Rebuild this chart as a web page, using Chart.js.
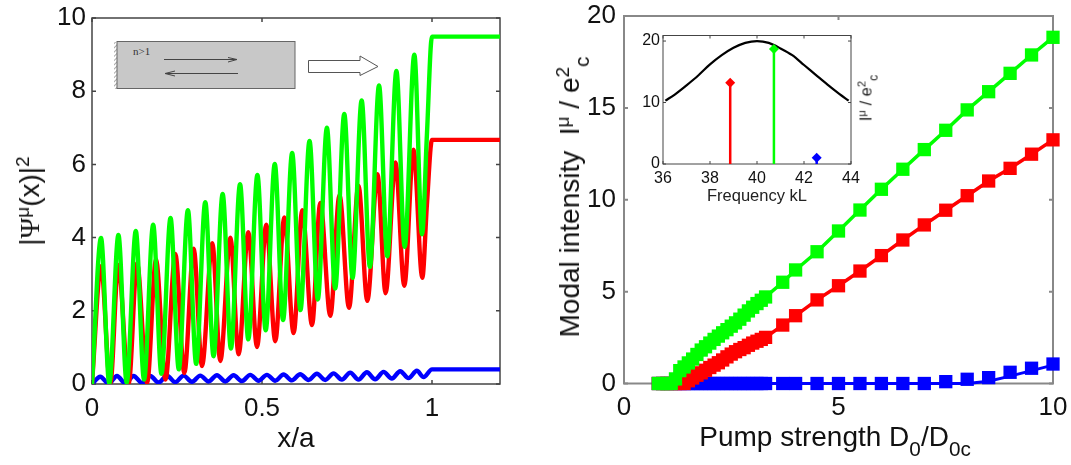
<!DOCTYPE html>
<html lang="en">
<head>
    <meta charset="UTF-8">
    <title>Modal intensity</title>
    <style>
        body { margin: 0; background: #fff; overflow: hidden; }
        canvas { position: absolute; left: 0; top: 0; }
        .label {
            position: absolute;
            white-space: nowrap;
            font-family: "Liberation Sans", sans-serif;
            color: #111;
            transform: translate(-50%, -50%);
        }
        .rot { transform: translate(-50%, -50%) rotate(-90deg); }
        .big { font-size: 28px; }
        .small { font-size: 16.5px; color: #222; }
        .label sup { font-size: 68%; line-height: 0; }
        .label sub { font-size: 74%; line-height: 0; vertical-align: -0.5em; }
        .psi { font-family: "Liberation Serif", serif; }
        #sketch { position: absolute; left: 0; top: 0; }
    </style>
</head>
<body>
    <canvas id="leftChart" width="1071" height="465"></canvas>
    <canvas id="rightChart" width="1071" height="465"></canvas>
    <canvas id="insetChart" width="1071" height="465"></canvas>

    <svg id="sketch" width="1071" height="465">
        <defs>
            <pattern id="hatch" width="3" height="3" patternUnits="userSpaceOnUse" patternTransform="rotate(45)">
                <line x1="0" y1="0" x2="0" y2="3" stroke="#555" stroke-width="1"/>
            </pattern>
        </defs>
        <rect x="114" y="42" width="3" height="47" fill="url(#hatch)"/>
        <rect x="117" y="41.5" width="178" height="47" fill="#c8c8c8" stroke="#666" stroke-width="1"/>
        <text x="133" y="55" font-family="Liberation Serif" font-size="11" fill="#333">n&gt;1</text>
        <path d="M164 59.5H236M228 57.5L237 59.5L228 62" fill="none" stroke="#444" stroke-width="1"/>
        <path d="M238 73.5H166M175 71L165 73.5L175 76" fill="none" stroke="#444" stroke-width="1"/>
        <path d="M308.5 60.5H360V56L378 66.5L360 75.5V72.5H308.5Z" fill="#fff" stroke="#555" stroke-width="1"/>
    </svg>

    <div class="label big" style="left:296px;top:438px">x/a</div>
    <div class="label big rot" style="left:30px;top:201px">|<span class="psi">&Psi;</span><sup>&mu;</sup>(x)|<sup>2</sup></div>
    <div class="label big" style="left:835px;top:437px">Pump strength D<sub>0</sub>/D<sub>0c</sub></div>
    <div class="label big rot" style="left:570px;top:197px">Modal intensity&nbsp; I<sup>&mu;</sup> / e<sup>2</sup><sub>c</sub></div>
    <div class="label small" style="left:757px;top:195px">Frequency kL</div>
    <div class="label small rot" style="left:866px;top:98px">I<sup>&mu;</sup> / e<sup>2</sup><sub>c</sub></div>

    <script src="https://cdn.jsdelivr.net/npm/chart.js"></script>
    <script>
        // left panel, |psi|^2 along the cavity: peaks and troughs
        const greenPsiX = [0, .0265, .0509, .0777, .102, .1288, .1531, .1799, .2042, .231, .2553, .2821, .3064, .3332, .3575, .3843, .4086, .4354, .4597, .4865, .5108, .5376, .5619, .5887, .613, .6398, .6641, .6909, .7152, .742, .7663, .7931, .8174, .8442, .8685, .8953, .9196, .948, .9708, .985, 1, 1.2];
        const greenPsiY = [0, 3.99, .02, 4.07, .04, 4.18, .12, 4.35, .28, 4.54, .4, 4.75, .55, 4.97, .76, 5.19, .97, 5.46, 1.22, 5.71, 1.47, 6.01, 1.75, 6.31, 2.02, 6.64, 2.31, 7.0, 2.61, 7.38, 2.9, 7.75, 3.2, 8.16, 3.49, 8.55, 3.75, 9.0, 4.09, 6.8, 9.49, 9.49];
        const redPsiX = [0, .0265, .0538, .0774, .1079, .1324, .1621, .1882, .2162, .2451, .2715, .2991, .3235, .3538, .3774, .4071, .4312, .4597, .4853, .5126, .5391, .5656, .593, .6185, .6471, .6715, .7009, .728, .7559, .7838, .8097, .8397, .8635, .8926, .9185, .9456, .9715, .985, 1, 1.2];
        const redPsiY = [0, 3.22, .01, 3.25, .01, 3.3, .03, 3.4, .12, 3.55, .3, 3.7, .49, 3.85, .63, 4.0, .81, 4.15, 1.01, 4.35, 1.17, 4.55, 1.39, 4.75, 1.61, 4.95, 1.86, 5.16, 2.08, 5.42, 2.27, 5.73, 2.48, 6.05, 2.68, 6.4, 2.9, 4.9, 6.67, 6.67];
        const bluePsiX = [0, .0244, .0489, .0734, .0979, .1224, .1469, .1714, .1959, .2204, .2449, .2694, .2939, .3184, .3429, .3674, .3919, .4164, .4409, .4654, .4899, .5144, .5389, .5634, .5879, .6124, .6369, .6614, .6859, .7104, .7349, .7594, .7839, .8084, .8329, .8574, .8819, .9064, .9309, .9554, .9753, 1, 1.2];
        const bluePsiY = [0, .2, .01, .22, .02, .22, .03, .22, .04, .23, .05, .23, .06, .23, .07, .24, .07, .24, .08, .25, .09, .25, .09, .26, .1, .265, .11, .28, .11, .29, .12, .31, .12, .32, .13, .33, .15, .35, .16, .36, .19, .4, .4];
        const psiXTicks = [0, 0.5, 1];
        const psiYTicks = [0, 2, 4, 6, 8, 10];

        // right panel, intensity against pump
        const pumpX = [.8, .9, 1, 1.1, 1.2, 1.3, 1.4, 1.5, 1.6, 1.7, 1.8, 1.9, 2, 2.1, 2.2, 2.3, 2.4, 2.5, 2.6, 2.7, 2.8, 2.9, 3, 3.1, 3.2, 3.3, 3.7, 4, 4.5, 5, 5.5, 6, 6.5, 7, 7.5, 8, 8.5, 9, 9.5, 10];
        const greenIntensity = [0, 0, 0, 0, .25, .7, .9, 1.12, 1.33, 1.58, 1.82, 2, 2.2, 2.4, 2.58, 2.76, 2.93, 3.12, 3.3, 3.5, 3.72, 3.95, 4.15, 4.35, 4.53, 4.71, 5.51, 6.18, 7.17, 8.3, 9.44, 10.57, 11.66, 12.73, 13.78, 14.89, 15.88, 16.88, 17.88, 18.84];
        const redIntensity = [0, 0, 0, 0, 0, 0, 0, .15, .3, .45, .58, .72, .87, 1, 1.13, 1.28, 1.45, 1.6, 1.73, 1.85, 1.95, 2.08, 2.2, 2.3, 2.4, 2.51, 3.18, 3.69, 4.55, 5.32, 6.12, 6.96, 7.81, 8.63, 9.43, 10.22, 11.02, 11.71, 12.48, 13.26];
        const blueIntensity = [0, 0, 0, 0, 0, 0, 0, 0, 0, 0, 0, 0, 0, 0, 0, 0, 0, 0, 0, 0, 0, 0, 0, 0, 0, 0, 0, 0, 0, 0, 0, 0, 0, 0, .1, .23, .32, .61, .83, 1.06];
        const blueLine = [0, 0, 0, 0, 0, 0, 0, 0, 0, 0, 0, 0, 0, 0, 0, 0, 0, 0, 0, 0, 0, 0, 0, 0, 0, 0, 0, 0, 0, 0, 0, 0, 0, 0, 0, 0, .12, .4, .7, 1];
        const pumpXTicks = [0, 5, 10];
        const pumpYTicks = [0, 5, 10, 15, 20];

        // inset, gain curve and lasing lines
        const gainX = [36.1, 36.5, 37, 37.5, 38, 38.5, 39, 39.5, 40, 40.5, 41, 41.5, 42, 42.5, 43, 43.5, 43.9];
        const gainY = [10.3, 11.3, 12.8, 14.4, 16.2, 17.7, 18.9, 19.7, 20, 19.7, 18.8, 17.7, 16.1, 14.5, 12.9, 11.4, 10.3];
        const modeFreq = [38.86, 40.72, 42.54];
        const modeIntensity = [13.2, 18.7, 1.03];
        const insetXTicks = [36, 38, 40, 42, 44];
        const insetYTicks = [0, 10, 20];

        const GREEN = '#00ff00', RED = '#ff0000', BLUE = '#0000ff';

        function pts(xs, ys) {
            return xs.map((x, i) => ({ x: x, y: ys[i] }));
        }

        function wave(xs, ys, color) {
            return { data: pts(xs, ys), borderColor: color, borderWidth: 4.4, pointRadius: 0, cubicInterpolationMode: 'monotone' };
        }

        function squares(ys, color) {
            return { data: pts(pumpX, ys), borderColor: color, backgroundColor: color, borderWidth: 3.5, pointStyle: 'rect', pointRadius: 9.4, pointBorderWidth: 0, clip: false };
        }

        function stem(i, color) {
            const x = modeFreq[i];
            return { data: [{ x: x, y: 0 }, { x: x, y: modeIntensity[i] }], borderColor: color, backgroundColor: color, borderWidth: 2.5, pointStyle: 'rectRot', pointRadius: [0, 5], pointBorderWidth: 0, clip: false };
        }

        // box and inward ticks, matlab style
        function framePlugin(color, width, len) {
            return {
                id: 'frame',
                beforeDatasetsDraw(chart) {
                    const c = chart.ctx, a = chart.chartArea;
                    c.save();
                    c.strokeStyle = color;
                    c.lineWidth = width;
                    c.strokeRect(a.left, a.top, a.right - a.left, a.bottom - a.top);
                    c.beginPath();
                    chart.scales.x.ticks.forEach(t => {
                        const p = chart.scales.x.getPixelForValue(t.value);
                        c.moveTo(p, a.bottom); c.lineTo(p, a.bottom - len);
                        c.moveTo(p, a.top); c.lineTo(p, a.top + len);
                    });
                    chart.scales.y.ticks.forEach(t => {
                        const p = chart.scales.y.getPixelForValue(t.value);
                        c.moveTo(a.left, p); c.lineTo(a.left + len, p);
                        c.moveTo(a.right, p); c.lineTo(a.right - len, p);
                    });
                    c.stroke();
                    c.restore();
                }
            };
        }

        function axis(min, max, ticks, fontSize, pad, isY, size) {
            return {
                type: 'linear',
                min: min,
                max: max,
                grid: { display: false, drawTicks: false },
                border: { display: false },
                ticks: { color: '#111', padding: pad, autoSkip: false, maxRotation: 0, font: { family: 'Liberation Sans', size: fontSize }, callback: v => String(v) },
                afterBuildTicks: s => { s.ticks = ticks.map(v => ({ value: v })); },
                afterFit: s => {
                    if (isY) s.width = size; else s.height = size;
                    s.paddingLeft = s.paddingRight = s.paddingTop = s.paddingBottom = 0;
                }
            };
        }

        // box = pixel rectangle of the plot area
        function makeChart(id, box, xMin, xMax, xTicks, yMin, yMax, yTicks, fontSize, xPad, yPad, datasets, frame) {
            const yw = 50, xh = 40;
            new Chart(document.getElementById(id), {
                type: 'line',
                data: { datasets: datasets },
                options: {
                    responsive: false,
                    animation: false,
                    layout: { padding: { left: box.left - yw, top: box.top, right: 1071 - box.right, bottom: 465 - box.bottom - xh } },
                    plugins: { legend: { display: false }, tooltip: { enabled: false } },
                    scales: {
                        x: axis(xMin, xMax, xTicks, fontSize, xPad, false, xh),
                        y: axis(yMin, yMax, yTicks, fontSize, yPad, true, yw)
                    }
                },
                plugins: [frame]
            });
        }

        // first dataset is drawn on top
        makeChart('leftChart', { left: 92, right: 500, top: 18, bottom: 384 }, 0, 1.2, psiXTicks, 0, 10, psiYTicks, 26, 9, 6, [
            wave(greenPsiX, greenPsiY, GREEN),
            wave(redPsiX, redPsiY, RED),
            wave(bluePsiX, bluePsiY, BLUE)
        ], framePlugin('#444', 1.5, 4));

        makeChart('rightChart', { left: 624, right: 1053, top: 16, bottom: 383.5 }, 0, 10, pumpXTicks, 0, 20, pumpYTicks, 26, 9, 8, [
            squares(greenIntensity, GREEN),
            squares(redIntensity, RED),
            Object.assign(squares(blueIntensity, BLUE), { showLine: false }),
            { data: pts(pumpX, blueLine), borderColor: BLUE, borderWidth: 3, pointRadius: 0, clip: false }
        ], framePlugin('#888', 2, 4));

        makeChart('insetChart', { left: 663, right: 851, top: 35.5, bottom: 164 }, 36, 44, insetXTicks, 0, 20.9, insetYTicks, 16, 5, 3, [
            stem(1, GREEN),
            stem(0, RED),
            stem(2, BLUE),
            { data: pts(gainX, gainY), borderColor: '#000', borderWidth: 2.2, pointRadius: 0, tension: 0.3 }
        ], framePlugin('#444', 1, 3));
    </script>
</body>
</html>
